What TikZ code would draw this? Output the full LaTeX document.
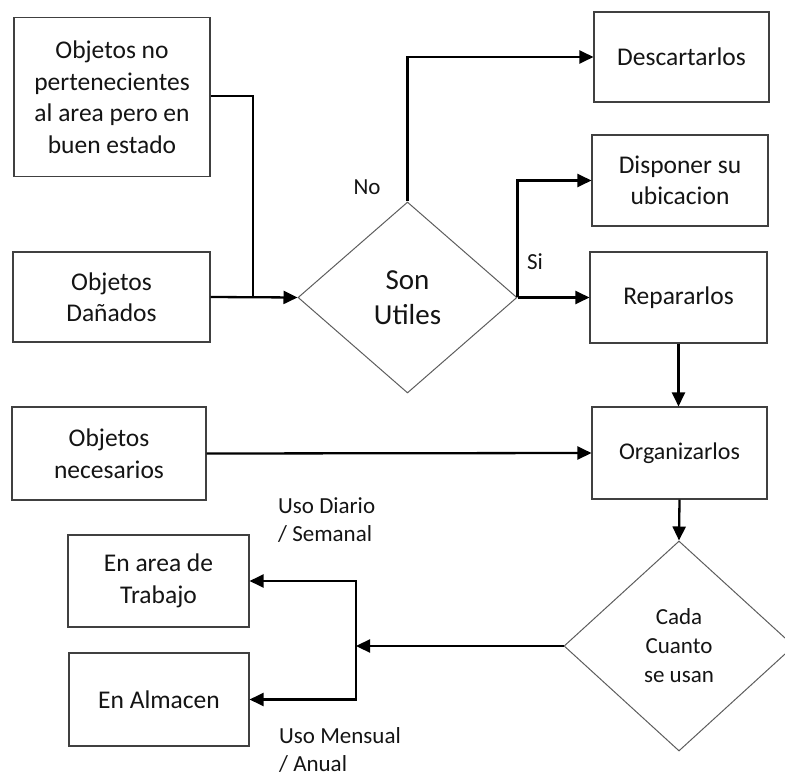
\documentclass[tikz,border=0pt]{standalone}
\usepackage{fontspec}
\setmainfont{Carlito}
\usetikzlibrary{shapes.geometric,arrows.meta}
\definecolor{boxline}{HTML}{404040}
\definecolor{txt}{HTML}{141414}
\tikzset{
  box/.style={draw=boxline, line width=1.1pt, rectangle, align=center, text=txt,
    inner sep=2pt, font=\fontsize{25.5}{31.5}\selectfont},
  decision/.style={draw=boxline!85, line width=1pt, diamond, align=center, text=txt,
    inner sep=0pt},
  flow/.style={line width=2.3pt, black},
  arr/.style={flow, -{Triangle[length=14pt, width=13pt]}},
  lbl/.style={text=txt, font=\fontsize{23}{28}\selectfont, inner sep=0pt}
}
\begin{document}
\begin{tikzpicture}[x=1pt, y=-1pt]
\useasboundingbox (0,0) rectangle (785,778);

% input boxes on the left
\node[box, minimum width=196pt, minimum height=159pt] (noper) at (112,97)
  {Objetos no\\pertenecientes\\al area pero en\\buen estado};
\node[box, minimum width=197pt, minimum height=90pt] (danados) at (111.5,297)
  {Objetos\\Dañados};
\node[box, minimum width=194pt, minimum height=93pt] (necesarios) at (109,453.5)
  {Objetos\\necesarios};

% first decision
\node[decision, minimum width=219pt, minimum height=191pt,
  font=\fontsize{29}{35}\selectfont] (utiles) at (407.5,297.5) {Son\\Utiles};

% outcomes on the right
\node[box, minimum width=175pt, minimum height=90pt] (descartar) at (681.5,57)
  {Descartarlos};
\node[box, minimum width=176pt, minimum height=91pt] (disponer) at (680,180.5)
  {Disponer su\\ubicacion};
\node[box, minimum width=177pt, minimum height=91pt] (reparar) at (678.5,297.5)
  {Repararlos};
\node[box, minimum width=175pt, minimum height=92pt,
  font=\fontsize{24}{30}\selectfont] (organizar) at (679.5,453)
  {Organizarlos};

% second decision
\node[decision, minimum width=230pt, minimum height=210pt,
  font=\fontsize{23}{29}\selectfont] (frecuencia) at (679,646)
  {Cada\\Cuanto\\se usan};

% storage places
\node[box, minimum width=181pt, minimum height=92pt] (area) at (158.5,581)
  {En area de\\Trabajo};
\node[box, minimum width=180pt, minimum height=93pt] (almacen) at (159,699.5)
  {En Almacen};

% junction points
\coordinate (j1) at (253,297);
\coordinate (j2) at (356,646);

% connectors
\draw[flow] (noper.east |- 0,96) -| (j1);
\draw[arr] (danados.east) -- (utiles.west);
\draw[arr] (utiles.north) |- (descartar.west);
\draw[arr] (utiles.east) |- (disponer.west);
\draw[arr] (utiles.east) -- (reparar.west);
\draw[arr] (reparar.south) -- (reparar.south |- organizar.north);
\draw[arr] (necesarios.east) -- (organizar.west);
\draw[arr] (organizar.south) -- (frecuencia.north);
\draw[arr] (frecuencia.west) -- (j2);
\draw[arr] (j2) |- (area.east);
\draw[arr] (j2) |- (almacen.east);

% branch labels
\node[lbl] (no) at (367,187) {No};
\node[lbl] (si) at (535,262) {Si};
\node[lbl, align=left, anchor=west] (diario) at (278,520) {Uso Diario\\/ Semanal};
\node[lbl, align=left, anchor=west] (mensual) at (279,750) {Uso Mensual\\/ Anual};
\end{tikzpicture}
\end{document}
